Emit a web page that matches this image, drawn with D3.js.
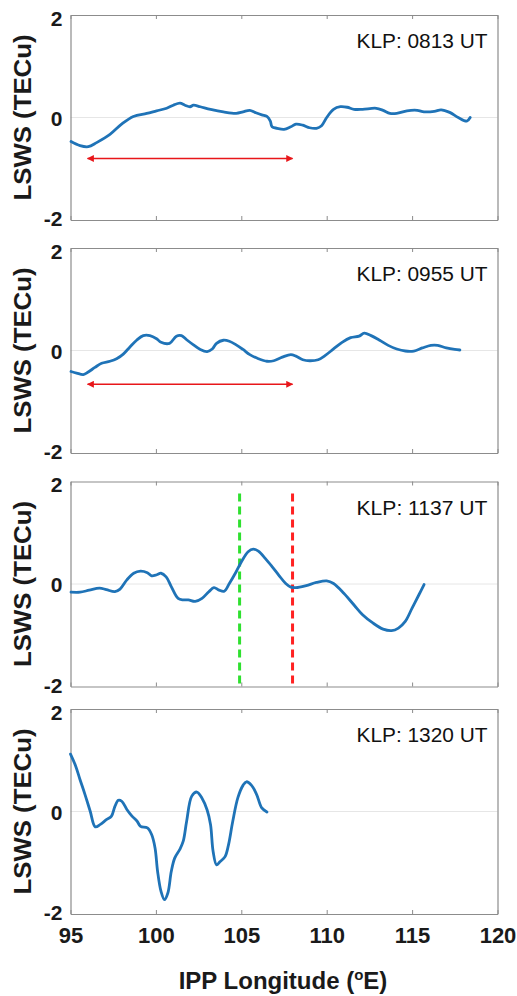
<!DOCTYPE html>
<html>
<head>
<meta charset="utf-8">
<script src="https://cdn.jsdelivr.net/npm/d3@7/dist/d3.min.js"></script>
<style>
  html, body { margin: 0; padding: 0; background: #fff; }
  svg { display: block; }
  text { font-family: "Liberation Sans", Arial, Helvetica, sans-serif; }
</style>
</head>
<body>
<svg id="chart" width="517" height="996"></svg>
<script>
// ---- Data ----
const xTicks = [95, 100, 105, 110, 115, 120];
const yTicks = [-2, 0, 2];
const yTickLabels = ["-2", "0", "2"];
const panelTitles = ["KLP: 0813 UT", "KLP: 0955 UT", "KLP: 1137 UT", "KLP: 1320 UT"];

const lon0813 = [95.03,95.56,96.04,96.53,97.31,97.99,98.68,99.46,100.04,100.63,101.02,101.41,101.7,102.0,102.2,102.6,103.2,103.95,104.7,105.1,105.5,105.8,106.2,106.5,106.7,106.8,107.1,107.5,107.9,108.2,108.6,109.0,109.4,109.7,110.0,110.4,110.8,111.2,111.6,112.1,112.9,113.3,113.7,114.1,114.7,115.3,115.7,116.3,116.7,117.2,117.7,118.2,118.4];
const val0813 = [-0.47,-0.55,-0.57,-0.49,-0.33,-0.13,0.02,0.08,0.13,0.18,0.24,0.28,0.24,0.21,0.24,0.21,0.16,0.11,0.08,0.11,0.14,0.10,0.05,0.02,-0.07,-0.18,-0.21,-0.23,-0.18,-0.13,-0.15,-0.20,-0.21,-0.16,0.0,0.16,0.21,0.20,0.16,0.16,0.18,0.14,0.08,0.08,0.13,0.14,0.11,0.12,0.15,0.10,0.0,-0.07,0.0];

const lon0955 = [95.03,95.36,95.75,96.04,96.43,96.82,97.31,97.7,98.09,98.48,98.87,99.26,99.65,100.04,100.3,100.8,101.2,101.5,101.8,102.2,102.6,103.0,103.3,103.55,103.95,104.3,104.7,105.1,105.5,106.0,106.5,106.9,107.4,107.9,108.2,108.6,109.0,109.5,109.9,110.4,110.9,111.4,111.9,112.2,112.6,113.1,113.6,114.1,114.6,115.1,115.6,116.1,116.5,117.0,117.5,117.8];
const val0955 = [-0.41,-0.44,-0.47,-0.42,-0.33,-0.25,-0.21,-0.16,-0.07,0.07,0.20,0.29,0.29,0.23,0.16,0.14,0.28,0.29,0.21,0.11,0.02,-0.02,0.03,0.14,0.20,0.18,0.11,0.02,-0.08,-0.16,-0.21,-0.20,-0.13,-0.08,-0.11,-0.18,-0.20,-0.18,-0.10,0.03,0.16,0.25,0.28,0.34,0.29,0.20,0.10,0.03,-0.01,-0.01,0.05,0.10,0.10,0.05,0.02,0.01];

const lon1137 = [95.03,95.56,96.1,96.7,97.1,97.6,97.9,98.3,98.7,99.1,99.5,99.75,100.05,100.3,100.6,100.9,101.3,101.6,101.9,102.3,102.7,103.1,103.4,103.7,104.0,104.3,104.7,105.0,105.4,105.7,106.0,106.4,106.8,107.2,107.6,107.9,108.2,108.8,109.4,110.0,110.4,111.0,111.6,112.1,112.7,113.3,113.8,114.2,114.6,115.0,115.4,115.7];
const val1137 = [-0.16,-0.16,-0.12,-0.08,-0.11,-0.15,-0.10,0.08,0.21,0.25,0.22,0.16,0.18,0.21,0.14,-0.05,-0.28,-0.31,-0.31,-0.34,-0.28,-0.15,-0.07,-0.12,-0.14,0.01,0.24,0.43,0.63,0.68,0.64,0.50,0.34,0.17,0.01,-0.06,-0.07,-0.03,0.03,0.06,0.01,-0.18,-0.41,-0.60,-0.76,-0.88,-0.91,-0.86,-0.73,-0.47,-0.21,-0.01];

const lon1320 = [95.0,95.3,95.55,95.85,96.15,96.45,96.75,97.1,97.4,97.6,97.8,98.0,98.3,98.6,98.9,99.1,99.5,99.75,99.95,100.1,100.3,100.5,100.7,100.9,101.1,101.4,101.6,101.8,102.1,102.4,102.7,103.0,103.2,103.35,103.55,103.75,104.05,104.25,104.5,104.8,105.1,105.3,105.6,105.9,106.2,106.5];
const val1320 = [1.12,0.89,0.63,0.33,0.01,-0.30,-0.25,-0.16,-0.09,0.10,0.22,0.20,0.04,-0.09,-0.19,-0.29,-0.32,-0.45,-0.71,-1.17,-1.56,-1.72,-1.59,-1.17,-0.91,-0.74,-0.58,-0.19,0.30,0.38,0.26,0.03,-0.26,-0.78,-1.04,-0.98,-0.88,-0.65,-0.19,0.27,0.51,0.58,0.51,0.33,0.07,-0.01];

// arrows [from lon, to lon, at value] for panels 1 and 2
const arrow0813 = [96.0, 108.0, -0.80];
const arrow0955 = [96.0, 108.0, -0.66];
// vertical dashed markers in panel 3
const markerLons = [104.9, 108.0];
const markerColors = ["#2fe02f", "#ff2222"];

// ---- Layout ----
const svg = d3.select("#chart");
const left = 70.5, right = 497.5;
const panelTops = [15, 248, 481.5, 709];
const panelH = 205;
const lineColor = "#1f73b7";

const x = d3.scaleLinear().domain([95, 120]).range([left, right]);

const panels = [
  { lon: lon0813, val: val0813, title: panelTitles[0], arrow: arrow0813 },
  { lon: lon0955, val: val0955, title: panelTitles[1], arrow: arrow0955 },
  { lon: lon1137, val: val1137, title: panelTitles[2], markers: true },
  { lon: lon1320, val: val1320, title: panelTitles[3], bottom: true }
];

const defs = svg.append("defs");
defs.append("marker")
  .attr("id", "ahead").attr("viewBox", "0 0 10 10")
  .attr("refX", 9).attr("refY", 5)
  .attr("markerWidth", 9).attr("markerHeight", 7)
  .attr("markerUnits", "userSpaceOnUse")
  .attr("orient", "auto-start-reverse")
  .append("path").attr("d", "M0,0 L10,5 L0,10 Z").attr("fill", "#e8161a");

panels.forEach((p, i) => {
  const top = panelTops[i], bot = top + panelH;
  const y = d3.scaleLinear().domain([-2, 2]).range([bot, top]);
  const g = svg.append("g");

  // zero reference line
  g.append("line")
    .attr("x1", left).attr("x2", right)
    .attr("y1", y(0)).attr("y2", y(0))
    .attr("stroke", "#e6e6e6").attr("stroke-width", 1);

  // bottom axis (ticks inward)
  const xb = g.append("g").attr("transform", `translate(0,${bot})`)
    .call(d3.axisBottom(x).tickValues(xTicks).tickSizeInner(-4).tickSizeOuter(0).tickPadding(13));
  // top axis
  const xt = g.append("g").attr("transform", `translate(0,${top})`)
    .call(d3.axisTop(x).tickValues(xTicks).tickSizeInner(-4).tickSizeOuter(0).tickFormat(""));
  // left axis
  const yl = g.append("g").attr("transform", `translate(${left},0)`)
    .call(d3.axisLeft(y).tickValues(yTicks).tickSizeInner(0).tickSizeOuter(0).tickPadding(8)
      .tickFormat(d => yTickLabels[yTicks.indexOf(d)]));
  // right axis
  const yr = g.append("g").attr("transform", `translate(${right},0)`)
    .call(d3.axisRight(y).tickValues(yTicks).tickSizeInner(0).tickSizeOuter(0).tickFormat(""));

  [xb, xt, yl, yr].forEach(a => {
    a.select(".domain").attr("stroke", "#8c8c8c").attr("stroke-width", 1.2);
    a.selectAll(".tick line").attr("stroke", "#8c8c8c");
  });
  yl.selectAll(".tick text")
    .attr("font-size", 21).attr("font-weight", "bold").attr("fill", "#1a1a1a")
    .attr("dy", d => d < 0 ? "0.28em" : (d > 0 ? "0.48em" : "0.36em"));
  if (p.bottom) {
    xb.selectAll(".tick text")
      .attr("font-size", 22).attr("font-weight", "bold").attr("fill", "#1a1a1a");
  } else {
    xb.selectAll(".tick text").remove();
  }

  // y axis label
  g.append("text")
    .attr("transform", `translate(31,${(top + bot) / 2}) rotate(-90)`)
    .attr("text-anchor", "middle")
    .attr("font-size", 23).attr("font-weight", "bold").attr("fill", "#1a1a1a")
    .attr("textLength", 166).attr("lengthAdjust", "spacingAndGlyphs")
    .text("LSWS (TECu)");

  // panel title
  g.append("text")
    .attr("x", right - 10).attr("y", top + 33)
    .attr("text-anchor", "end")
    .attr("font-size", 20).attr("fill", "#111")
    .attr("textLength", 131).attr("lengthAdjust", "spacingAndGlyphs")
    .text(p.title);

  // markers
  if (p.markers) {
    markerLons.forEach((m, k) => {
      g.append("line")
        .attr("x1", x(m)).attr("x2", x(m))
        .attr("y1", top + 12).attr("y2", bot)
        .attr("stroke", markerColors[k]).attr("stroke-width", 3)
        .attr("stroke-dasharray", "8,5");
    });
  }

  // data line
  const data = p.lon.map((d, k) => [d, p.val[k]]);
  g.append("path")
    .datum(data)
    .attr("fill", "none")
    .attr("stroke", lineColor)
    .attr("stroke-width", 2.8)
    .attr("stroke-linejoin", "round")
    .attr("stroke-linecap", "round")
    .attr("d", d3.line().x(d => x(d[0])).y(d => y(d[1])).curve(d3.curveCatmullRom.alpha(0.5)));

  // arrow
  if (p.arrow) {
    g.append("line")
      .attr("x1", x(p.arrow[0])).attr("x2", x(p.arrow[1]))
      .attr("y1", y(p.arrow[2])).attr("y2", y(p.arrow[2]))
      .attr("stroke", "#e8161a").attr("stroke-width", 1.5)
      .attr("marker-start", "url(#ahead)")
      .attr("marker-end", "url(#ahead)");
  }
});

// x-axis title
const xt = svg.append("text")
  .attr("x", (left + right) / 2 - 1).attr("y", 989)
  .attr("text-anchor", "middle")
  .attr("font-size", 24).attr("font-weight", "bold").attr("fill", "#1a1a1a");
xt.append("tspan").text("IPP Longitude (");
xt.append("tspan").attr("font-size", 15).attr("dy", -9).text("o");
xt.append("tspan").attr("dy", 9).text("E)");
</script>
</body>
</html>
